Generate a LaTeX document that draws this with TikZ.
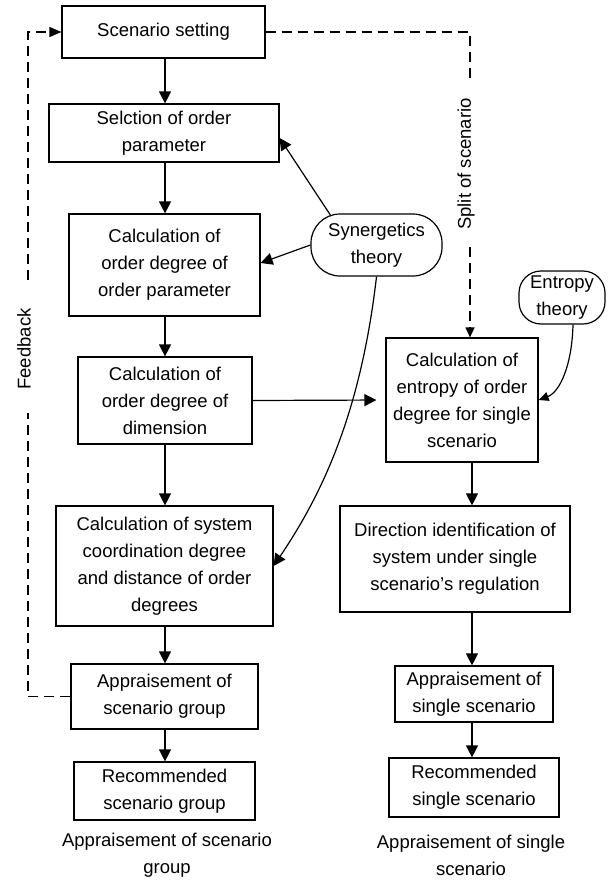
\documentclass[tikz,border=0pt]{standalone}
\usepackage{fontspec}
\setmainfont{Liberation Sans}
\usetikzlibrary{arrows.meta,calc}
\begin{document}
\begin{tikzpicture}[x=1pt,y=-1pt,
  txt/.style={align=center,inner sep=0pt,font=\fontsize{18.5}{27}\selectfont},
  box/.style={txt,draw,line width=1.2pt},
  theory/.style={box,rounded corners=29pt},
  arr/.style={line width=1.2pt,-{Triangle[length=12pt,width=12pt]}},
  sarr/.style={line width=1.2pt,-{Triangle[length=10pt,width=9pt]}},
  dsh/.style={line width=1.2pt,dash pattern=on 10pt off 6pt}]
\useasboundingbox (0,0) rectangle (611,881);
% left column
\node[box,minimum width=203pt,minimum height=52pt] (set) at (163.5,32) {Scenario setting};
\node[box,minimum width=230pt,minimum height=58pt] (sel) at (164,133) {Selction of order\\parameter};
\node[box,minimum width=191pt,minimum height=102pt] (cod1) at (164.5,265) {Calculation of\\order degree of\\order parameter};
\node[box,minimum width=174pt,minimum height=87pt] (cod2) at (165,400.5) {Calculation of\\order degree of\\dimension};
\node[box,minimum width=217pt,minimum height=120pt] (csys) at (164.5,566) {Calculation of system\\coordination degree\\and distance of order\\degrees};
\node[box,minimum width=187pt,minimum height=65pt] (apg) at (164.5,696.5) {Appraisement of\\scenario group};
\node[box,minimum width=181pt,minimum height=58pt] (rcg) at (164.5,791) {Recommended\\scenario group};
% theories
\node[theory,minimum width=131pt,minimum height=62pt] (syn) at (376.5,245) {Synergetics\\theory};
\node[theory,rounded corners=22pt,minimum width=86pt,minimum height=53pt] (ent) at (562,297.5) {Entropy\\theory};
% right column
\node[box,minimum width=152pt,minimum height=124pt] (cent) at (462,400) {Calculation of\\entropy of order\\degree for single\\scenario};
\node[box,minimum width=230pt,minimum height=106pt] (dir) at (455,559) {Direction identification of\\system under single\\scenario's regulation};
\node[box,minimum width=158pt,minimum height=56pt] (aps) at (474,694) {Appraisement of\\single scenario};
\node[box,minimum width=170pt,minimum height=59pt] (rcs) at (474,787.5) {Recommended\\single scenario};
% bottom labels
\node[txt] (lg) at (167,855) {Appraisement of scenario\\group};
\node[txt] (ls) at (471,855) {Appraisement of single\\scenario};
% side labels
\node[txt,rotate=90] (fb) at (24,349) {Feedback};
\node[txt,rotate=90] (split) at (466,164) {Split of scenario};
% coordinates
\coordinate (lx) at (165,0);
\coordinate (rx) at (472,0);
\coordinate (fb1) at (28,696.5);
\coordinate (fb2) at (28,413);
\coordinate (fb3) at (28,280);
\coordinate (fb4) at (28,32);
\coordinate (sp1) at (470,32);
\coordinate (sp2) at (470,82);
\coordinate (sp3) at (470,247);
\coordinate (s1) at (331,216);
% vertical arrows left
\draw[arr] (set.south -| lx) -- (sel.north -| lx);
\draw[arr] (sel.south -| lx) -- (cod1.north -| lx);
\draw[arr] (cod1.south -| lx) -- (cod2.north -| lx);
\draw[arr] (cod2.south -| lx) -- (csys.north -| lx);
\draw[arr] (csys.south -| lx) -- (apg.north -| lx);
\draw[arr] (apg.south -| lx) -- (rcg.north -| lx);
% vertical arrows right
\draw[arr] (cent.south -| rx) -- (dir.north -| rx);
\draw[arr] (dir.south -| rx) -- (aps.north -| rx);
\draw[arr] (aps.south -| rx) -- (rcs.north -| rx);
% synergetics links
\draw[arr] (s1) -- ($(sel.east)+(0,5)$);
\draw[arr] (syn.west) -- ($(cod1.east)+(0,-2)$);
\draw[arr] (syn.south) .. controls (360,420) and (318,500) .. (csys.east);
% entropy link
\draw[sarr] ($(ent.south)+(11,0)$) .. controls (572,365) and (560,392) .. (cent.east);
% dimension to entropy
\draw[arr,shorten >=9pt] (cod2.east) -- (cent.west);
% feedback dashed
\draw[dsh] (apg.west) -- (fb1) -- (fb2);
\draw[dsh,-{Triangle[length=12pt,width=10pt]}] (fb3) -- (fb4) -- (set.west);
% split dashed
\draw[dsh] (set.east) -- (sp1) -- (sp2);
\draw[dsh,-{Triangle[length=10pt,width=9pt]}] (sp3) -- (cent.north -| sp3);
\end{tikzpicture}
\end{document}
